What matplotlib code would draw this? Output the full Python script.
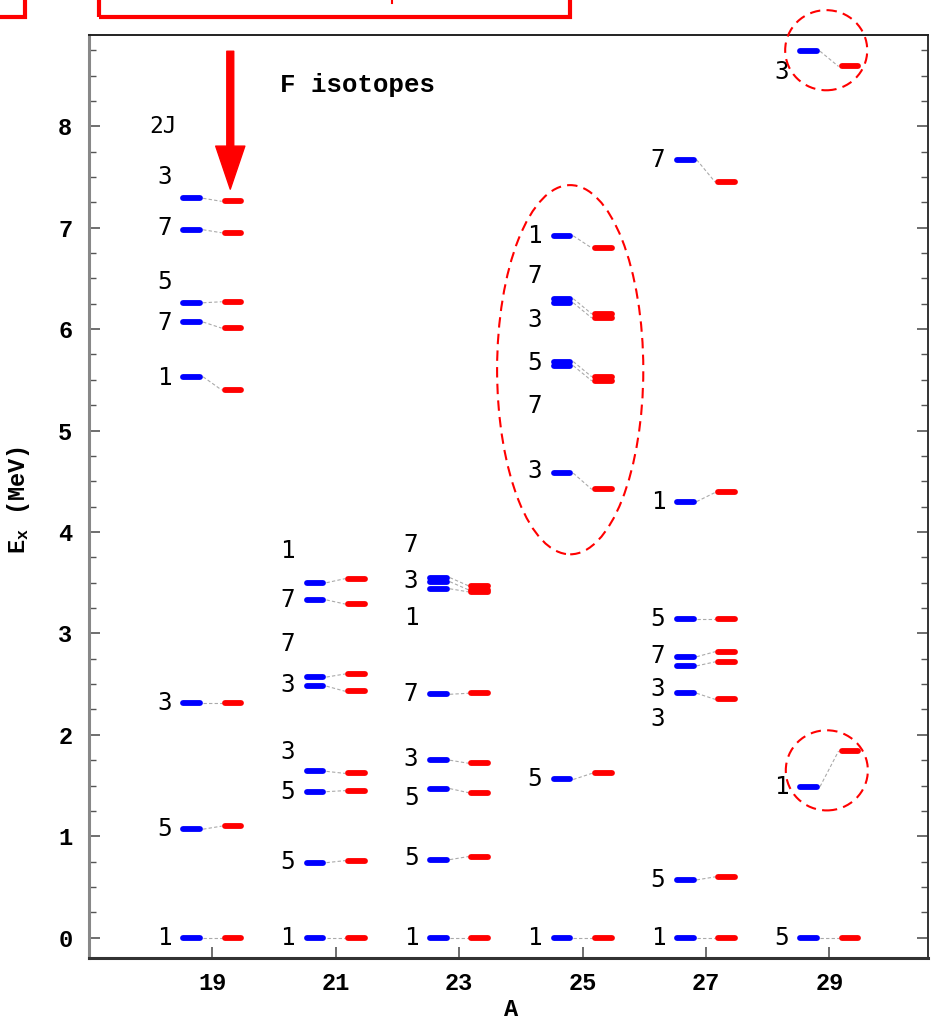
import matplotlib
matplotlib.use("Agg")
import matplotlib.pyplot as plt
from matplotlib.patches import Ellipse, Rectangle
from matplotlib.lines import Line2D

# mass numbers of the F isotopes
masses = [19, 21, 23, 25, 27, 29]

# 2J of each level, per isotope
twoj_19 = [1, 5, 3, 1, 7, 5, 7, 3]
twoj_21 = [1, 5, 5, 3, 3, 7, 7, 1]
twoj_23 = [1, 5, 5, 3, 7, 1, 3, 7]
twoj_25 = [1, 5, 3, 7, 5, 3, 7, 1]
twoj_27 = [1, 5, 3, 3, 7, 5, 1, 7]
twoj_29 = [5, 1, 3]

# excitation energies (MeV), blue = first calculation, red = second
blue_19 = [0.0, 1.07, 2.31, 5.53, 6.07, 6.26, 6.98, 7.29]
red_19 = [0.0, 1.10, 2.31, 5.40, 6.01, 6.27, 6.95, 7.26]
blue_21 = [0.0, 0.74, 1.44, 1.64, 2.48, 2.57, 3.33, 3.50]
red_21 = [0.0, 0.76, 1.45, 1.62, 2.43, 2.60, 3.29, 3.54]
blue_23 = [0.0, 0.77, 1.47, 1.75, 2.40, 3.44, 3.51, 3.55]
red_23 = [0.0, 0.80, 1.43, 1.72, 2.41, 3.41, 3.43, 3.47]
blue_25 = [0.0, 1.56, 4.58, 5.64, 5.68, 6.26, 6.30, 6.92]
red_25 = [0.0, 1.62, 4.42, 5.49, 5.53, 6.11, 6.15, 6.80]
blue_27 = [0.0, 0.57, 2.41, 2.68, 2.77, 3.14, 4.30, 7.67]
red_27 = [0.0, 0.60, 2.35, 2.72, 2.82, 3.14, 4.39, 7.45]
blue_29 = [0.0, 1.49, 8.74]
red_29 = [0.0, 1.84, 8.59]

# where the 2J labels sit (shifted apart where levels crowd)
label_19 = [0.0, 1.07, 2.31, 5.52, 6.06, 6.46, 7.00, 7.50]
label_21 = [0.0, 0.75, 1.44, 1.83, 2.49, 2.90, 3.33, 3.81]
label_23 = [0.0, 0.79, 1.38, 1.76, 2.40, 3.15, 3.52, 3.87]
label_25 = [0.0, 1.56, 4.60, 5.24, 5.67, 6.09, 6.52, 6.92]
label_27 = [0.0, 0.57, 2.16, 2.45, 2.78, 3.14, 4.30, 7.67]
label_29 = [0.0, 1.49, 8.54]

twoj = [twoj_19, twoj_21, twoj_23, twoj_25, twoj_27, twoj_29]
blue = [blue_19, blue_21, blue_23, blue_25, blue_27, blue_29]
red = [red_19, red_21, red_23, red_25, red_27, red_29]
labels = [label_19, label_21, label_23, label_25, label_27, label_29]

W, H = 933, 1021
fig = plt.figure(figsize=(W / 100, H / 100), dpi=100)
ax = fig.add_axes([89 / W, 1 - 958 / H, (928 - 89) / W, (958 - 35) / H])

mono = "Liberation Mono"
lab_font = "DejaVu Sans Mono"

bar_lw = 4.2
for A, tj, eb, er, el in zip(masses, twoj, blue, red, labels):
    for j, b, r, l in zip(tj, eb, er, el):
        ax.plot([A - 0.47, A - 0.20], [b, b], color="#0000ff", lw=bar_lw,
                solid_capstyle="round", zorder=3)
        ax.plot([A + 0.20, A + 0.47], [r, r], color="#ff0000", lw=bar_lw,
                solid_capstyle="round", zorder=3)
        ax.plot([A - 0.15, A + 0.15], [b, r], color="#aaaaaa", lw=0.8,
                dashes=(3, 2), zorder=2)
        ax.text(A - 0.66, l, str(j), ha="right", va="center",
                fontsize=17.5, family=lab_font)

ax.text(18.2, 8.0, "2J", ha="center", va="center", fontsize=16.5, family=lab_font)
ax.text(20.1, 8.41, "F isotopes", ha="left", va="center", fontsize=18.5,
        family=mono, fontweight="bold")

ax.set_xlim(17, 30.6)
ax.set_ylim(-0.2, 8.9)
ax.set_xticks(masses)
ax.set_yticks(range(0, 9))
ax.set_yticks([i * 0.25 for i in range(0, 36)], minor=True)
ax.tick_params(axis="both", which="both", direction="in", color="#555555")
ax.tick_params(axis="y", which="both", right=True)
ax.tick_params(axis="both", which="major", length=8, width=1.2, labelsize=17)
ax.tick_params(axis="y", which="minor", length=5, width=1.0)
ax.tick_params(axis="y", pad=12)
ax.tick_params(axis="x", pad=10)
for lbl in ax.get_xticklabels() + ax.get_yticklabels():
    lbl.set_family(mono)
    lbl.set_fontweight("bold")

ax.spines["left"].set_color("#888888")
ax.spines["left"].set_linewidth(2.2)
ax.spines["bottom"].set_color("#333333")
ax.spines["bottom"].set_linewidth(2.2)
ax.spines["top"].set_color("#222222")
ax.spines["top"].set_linewidth(1.4)
ax.spines["right"].set_color("#333333")
ax.spines["right"].set_linewidth(1.4)

plt.rcParams["mathtext.default"] = "regular"
ax.set_ylabel(r"E$_{x}$ (MeV)", family=mono, fontweight="bold", fontsize=17)
ax.yaxis.set_label_coords(-0.068, 0.496)
ax.set_xlabel("A", family=mono, fontweight="bold", fontsize=17)
ax.xaxis.set_label_coords(0.503, -0.043)

# red highlight marks
ell = dict(fill=False, edgecolor="#ff0000", lw=1.5, linestyle=(0, (5, 3)),
           clip_on=False, zorder=4)
ax.add_patch(Ellipse((24.80, 5.60), 2.37, 3.64, **ell))
ax.add_patch(Ellipse((28.95, 8.75), 1.33, 0.79, **ell))
ax.add_patch(Ellipse((28.96, 1.65), 1.33, 0.79, **ell))

ax.annotate("", xy=(19.29, 7.38), xytext=(19.29, 8.74),
            arrowprops=dict(facecolor="#ff0000", edgecolor="#ff0000",
                            width=5, headwidth=21, headlength=31, shrink=0),
            annotation_clip=False)

box = dict(fill=False, edgecolor="#ff0000", lw=3, transform=fig.transFigure,
           clip_on=False)
fig.add_artist(Rectangle((-10 / W, 1 - 17 / H), 35 / W, 40 / H, **box))
fig.add_artist(Rectangle((99 / W, 1 - 17 / H), 471 / W, 40 / H, **box))
fig.add_artist(Line2D([392 / W, 392 / W], [1, 1 - 3 / H], color="#ff0000",
                      lw=1.5, transform=fig.transFigure))

fig.savefig("out.png", dpi=100)
